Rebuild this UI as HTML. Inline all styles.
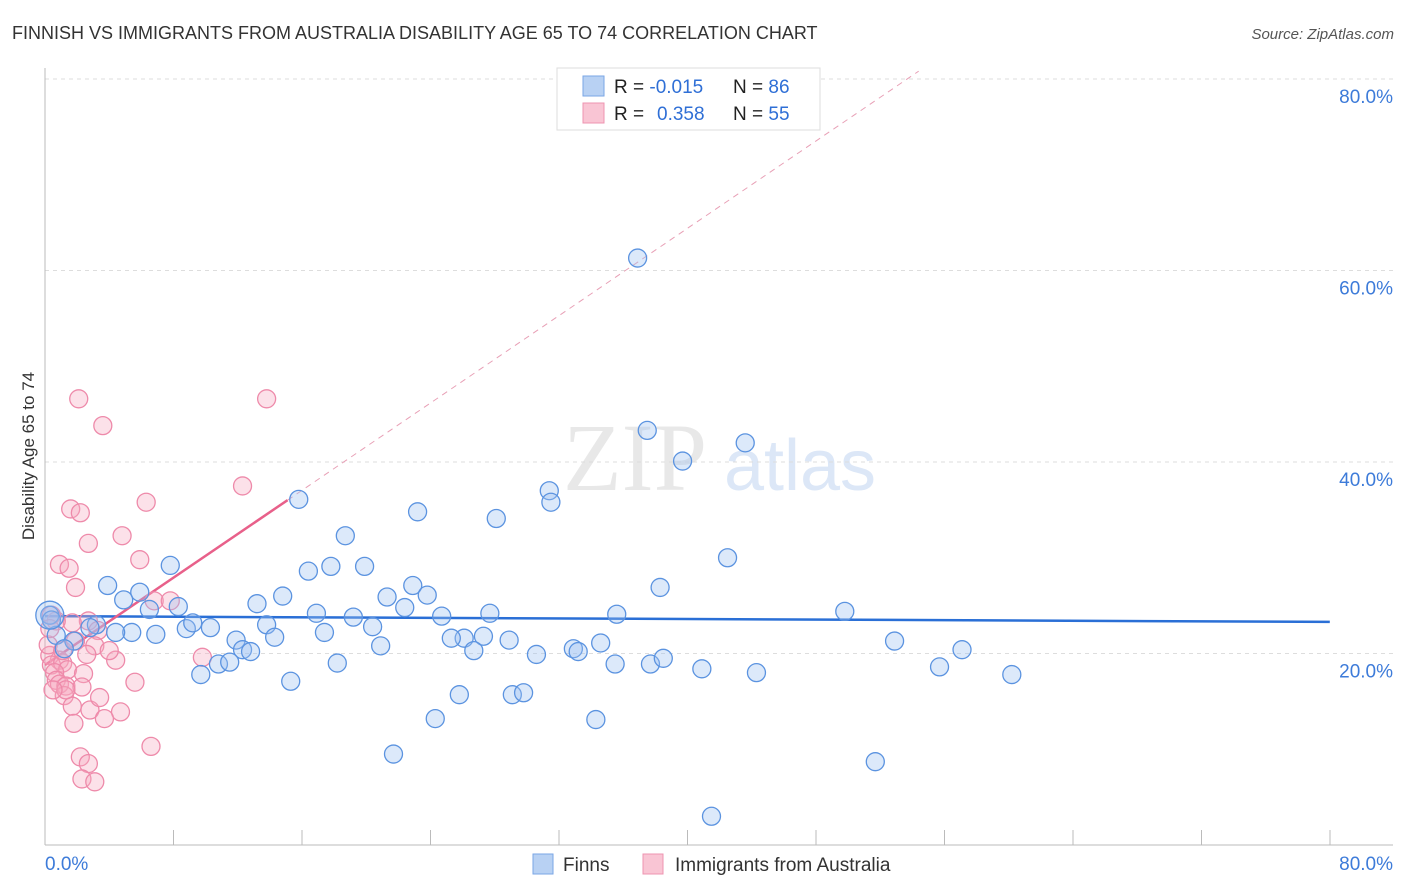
<!DOCTYPE html>
<html><head><meta charset="utf-8">
<style>
body{margin:0;background:#fff;font-family:"Liberation Sans",sans-serif;}
#wrap{position:relative;width:1406px;height:892px;overflow:hidden;}
</style></head>
<body><div id="wrap">
<svg id="svg" width="1406" height="892" xmlns="http://www.w3.org/2000/svg" font-family="Liberation Sans, sans-serif">
<text x="12" y="39" font-size="18" fill="#333">FINNISH VS IMMIGRANTS FROM AUSTRALIA DISABILITY AGE 65 TO 74 CORRELATION CHART</text>
<text x="1394" y="39" font-size="15" fill="#555" text-anchor="end" font-style="italic">Source: ZipAtlas.com</text>
<text x="34" y="456" font-size="17" fill="#333" text-anchor="middle" transform="rotate(-90 34 456)">Disability Age 65 to 74</text>
<g><text x="635" y="490" font-size="96" fill="#ccc" fill-opacity="0.45" text-anchor="middle" font-family="Liberation Serif, serif">ZIP</text><text x="800" y="490" font-size="72" fill="#9bbbe8" fill-opacity="0.35" text-anchor="middle">atlas</text></g>
<g id="grid"></g><g id="axes"></g><g id="lines"></g><g id="pts"></g>
<g>
<rect x="557" y="68" width="263" height="62" fill="#fff" stroke="#ddd"/>
<rect x="583" y="76" width="21" height="20" fill="#b8d1f3" stroke="#7aa6e6"/>
<rect x="583" y="103" width="21" height="20" fill="#f9c5d4" stroke="#ee94b0"/>
<text x="614" y="93" font-size="19" fill="#222">R = <tspan fill="#2f6fd6">-0.015</tspan></text>
<text x="733" y="93" font-size="19" fill="#222">N = <tspan fill="#2f6fd6">86</tspan></text>
<text x="614" y="120" font-size="19" fill="#222">R = <tspan fill="#2f6fd6" x="657">0.358</tspan></text>
<text x="733" y="120" font-size="19" fill="#222">N = <tspan fill="#2f6fd6">55</tspan></text>
</g>
<g>
<rect x="533" y="854" width="20" height="20" fill="#b8d1f3" stroke="#7aa6e6"/>
<text x="563" y="871" font-size="19" fill="#333">Finns</text>
<rect x="643" y="854" width="20" height="20" fill="#f9c5d4" stroke="#ee94b0"/>
<text x="675" y="871" font-size="19" fill="#333">Immigrants from Australia</text>
</g>
</svg></div>
<script>
const blueX=[36.9,37.5,43.6,39.7,31.4,31.5,15.8,23.2,28.1,18.7,42.5,7.8,16.4,17.8,19.9,3.9,5.9,21.3,22.9,23.8,38.3,4.9,13.2,14.8,22.4,6.5,8.3,16.9,19.2,24.7,27.7,35.6,49.8,3.2,2.8,5.4,4.4,6.9,8.8,9.2,10.3,13.8,20.4,17.4,14.3,11.9,26.1,27.3,25.3,28.9,34.6,0.7,1.8,1.2,52.9,12.3,12.8,20.9,32.9,33.2,26.7,30.6,57.1,10.8,11.5,18.2,35.5,37.7,38.5,40.9,44.3,55.7,60.2,9.7,15.3,25.8,29.1,29.8,24.3,34.3,21.7,51.7,41.5,0.3,0.4];
const blueY=[61.3,43.3,42.0,40.1,37.0,35.8,36.1,34.8,34.1,32.3,30.0,29.2,28.6,29.1,29.1,27.1,26.4,25.9,27.1,26.1,26.9,25.6,25.2,26.0,24.8,24.6,24.9,24.2,23.8,23.9,24.2,24.1,24.4,23.0,22.7,22.2,22.2,22.0,22.6,23.2,22.7,23.0,22.8,22.2,21.7,21.4,21.6,21.8,21.6,21.4,21.1,21.9,21.3,20.5,21.3,20.4,20.2,20.8,20.5,20.2,20.3,19.9,20.4,18.9,19.1,19.0,18.9,18.9,19.5,18.4,18.0,18.6,17.8,17.8,17.1,15.7,15.7,15.9,13.2,13.1,9.5,8.7,3.0,24.0,23.5];
const pinkX=[2.1,13.8,3.6,12.3,6.3,1.6,2.2,4.8,2.7,0.9,1.5,1.9,6.8,7.8,2.7,3.3,1.7,0.7,0.4,3.1,2.6,4.4,0.9,0.3,0.4,1.1,1.4,0.6,2.4,0.7,0.9,1.3,2.3,5.6,9.8,1.2,1.7,2.8,4.7,3.7,1.8,6.6,2.2,2.7,2.3,3.1,0.2,0.3,1.1,1.9,4.0,3.4,1.3,0.5,5.9];
const pinkY=[46.6,46.6,43.8,37.5,35.8,35.1,34.7,32.3,31.5,29.3,28.9,26.9,25.5,25.5,23.4,22.4,23.2,23.4,24.0,20.8,19.9,19.3,19.3,19.8,18.8,19.0,18.3,18.0,17.9,17.2,16.8,16.6,16.5,17.0,19.6,15.6,14.5,14.1,13.9,13.2,12.7,10.3,9.2,8.5,6.9,6.6,20.9,22.6,20.3,21.3,20.3,15.4,16.2,16.2,29.8];
const yTicks=[20,40,60,80];
const xTicks=[0,10,20,30,40,50,60,70,80,90,100];
const blueTrend=[23.9,23.3];
const pinkTrend=[18.8,1.14];
const X=v=>45+v*16.06, Y=v=>845-v*9.575;
const NS="http://www.w3.org/2000/svg";
function mk(tag,attrs,parent){const e=document.createElementNS(NS,tag);for(const k in attrs)e.setAttribute(k,attrs[k]);parent.appendChild(e);return e;}
const grid=document.getElementById('grid'),axes=document.getElementById('axes'),lines=document.getElementById('lines'),pts=document.getElementById('pts');
yTicks.forEach(t=>{
 const l=mk('line',{x1:45,x2:1393,y1:Y(t),y2:Y(t),stroke:'#ddd','stroke-dasharray':'4,4'},grid);
 
 
 const tx=mk('text',{x:1393,y:Y(t)+24,'font-size':19,fill:'#3d7bd9','text-anchor':'end'},grid);
 tx.textContent=t.toFixed(1)+'%';
 
 
});
const ax=mk('line',{x1:45,x2:1393,y1:845,y2:845,stroke:'#bbb'},axes);


const ay=mk('line',{x1:45,x2:45,y1:68,y2:845,stroke:'#bbb'},axes);


xTicks.forEach(t=>{const px=45+t*12.85;if(px>1335)return;
 const l=mk('line',{x1:px,x2:px,y1:830,y2:845,stroke:'#bbb'},axes);
 
 
});
const xl=mk('text',{x:45,y:870,'font-size':19,fill:'#3d7bd9'},axes);xl.textContent='0.0%';


const xr=mk('text',{x:1393,y:870,'font-size':19,fill:'#3d7bd9','text-anchor':'end'},axes);xr.textContent='80.0%';


function dot(x,y,fill,stroke,name,r){const c=mk('circle',{cx:X(x),cy:Y(y),r:r||9,fill:fill,'fill-opacity':0.35,stroke:stroke,'stroke-width':1.3},pts);
 
 }
pinkX.forEach((x,i)=>dot(x,pinkY[i],'#f7a8c0','#ee8aaa','immigrants-point'));
blueX.forEach((x,i)=>dot(x,blueY[i],'#9cc0f0','#5b93e0','finns-point'));
dot(0.3,24.0,'#9cc0f0','#5b93e0','finns-point-large',14);
const bl=mk('line',{x1:X(0),x2:X(80),y1:Y(blueTrend[0]),y2:Y(blueTrend[1]),stroke:'#2a6fd6','stroke-width':2.5},lines);


const pe=15.1,pd=54.4;
const pl=mk('line',{x1:X(0),x2:X(pe),y1:Y(pinkTrend[0]),y2:Y(pinkTrend[0]+pinkTrend[1]*pe),stroke:'#e8608a','stroke-width':2.5},lines);


const pdl=mk('line',{x1:X(pe),x2:X(pd),y1:Y(pinkTrend[0]+pinkTrend[1]*pe),y2:Y(pinkTrend[0]+pinkTrend[1]*pd),stroke:'#e8a0b6','stroke-width':1,'stroke-dasharray':'6,5'},lines);


</script>
</body></html>
